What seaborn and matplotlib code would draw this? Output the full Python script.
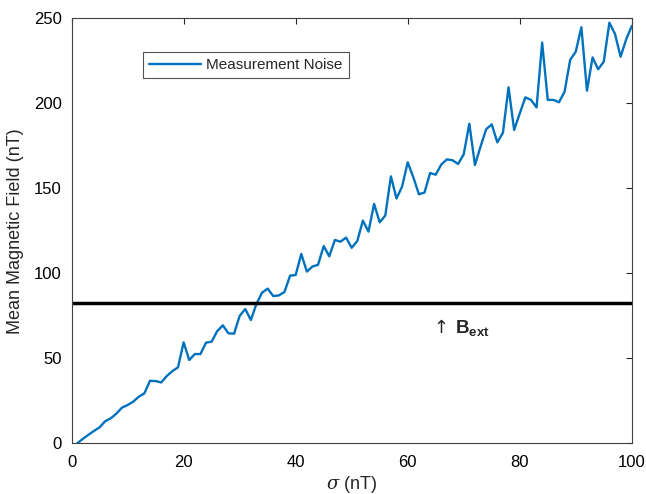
import numpy as np
import pandas as pd
import seaborn as sns
import matplotlib.pyplot as plt

# sigma values (nT) and the mean field
sigma = list(range(1, 101))
mean_field = [
    0.0, 2.6, 5.0, 7.3, 9.4, 13.0, 14.7, 17.5, 21.0, 22.5,
    24.5, 27.4, 29.4, 36.8, 36.6, 35.8, 39.6, 42.5, 44.7, 59.4,
    49.0, 52.5, 52.5, 59.2, 59.8, 66.0, 69.4, 64.7, 64.5, 74.9,
    79.0, 72.5, 82.0, 88.6, 91.0, 86.6, 87.0, 89.0, 98.6, 99.0,
    111.4, 101.0, 104.0, 105.0, 116.0, 110.0, 119.6, 118.6, 121.0, 115.0,
    119.0, 131.0, 124.5, 140.8, 130.0, 134.0, 157.0, 144.0, 151.0, 165.3,
    156.5, 146.5, 147.5, 159.0, 158.0, 164.0, 167.0, 166.5, 164.3, 170.0,
    188.0, 163.7, 174.5, 184.7, 187.6, 177.0, 182.7, 209.4, 184.3, 194.0,
    203.5, 202.0, 197.6, 235.7, 202.0, 202.0, 200.6, 206.8, 225.5, 230.4,
    244.7, 207.4, 227.0, 220.0, 224.5, 247.4, 240.8, 227.4, 237.6, 245.5,
]
b_ext = 82.4

df = pd.DataFrame({'sigma': sigma, 'field': mean_field})

sns.set_style('white')
plt.rcParams['font.family'] = ['Liberation Sans', 'DejaVu Sans']
plt.rcParams['mathtext.fontset'] = 'custom'
plt.rcParams['mathtext.rm'] = 'Liberation Sans'
plt.rcParams['mathtext.bf'] = 'Liberation Sans:bold'
plt.rcParams['mathtext.it'] = 'DejaVu Serif:italic'

fig = plt.figure(figsize=(6.46, 4.94), dpi=100)
ax = fig.add_axes([0.1108, 0.1026, 0.8672, 0.8604])

sns.lineplot(data=df, x='sigma', y='field', ax=ax, color='#0072BD',
             linewidth=1.7, label='Measurement Noise')
ax.axhline(b_ext, color='black', linewidth=2.5)

# annotation under the reference line
ax.text(64.6, 64.7, '\u2191', fontsize=13, va='baseline', ha='left',
        family='DejaVu Sans')
ax.text(68.5, 64.7, r'$\mathbf{B_{ext}}$', fontsize=13.5, va='baseline', ha='left')

ax.set_xlim(0, 100)
ax.set_ylim(0, 250)
ax.set_xticks([0, 20, 40, 60, 80, 100])
ax.set_yticks([0, 50, 100, 150, 200, 250])
ax.tick_params(direction='in', length=4, width=0.8, colors='#262626',
               labelsize=12, top=True, right=True, pad=8.5)
ax.tick_params(axis='x', labelcolor='black')
ax.tick_params(axis='y', labelcolor='black', pad=7)
for s in ax.spines.values():
    s.set_color('#404040')
    s.set_linewidth(0.8)

ax.set_xlabel(r'$\sigma$ (nT)', fontsize=13, labelpad=2.5)
ax.set_ylabel('Mean Magnetic Field (nT)', fontsize=13, labelpad=7)

leg = ax.legend(loc='upper left', bbox_to_anchor=(0.127, 0.921), fontsize=11,
                frameon=True, fancybox=False, edgecolor='#262626',
                handlelength=3.4, handletextpad=0.35, borderpad=0.4,
                borderaxespad=0)
leg.get_frame().set_linewidth(0.8)

fig.savefig('out.png', dpi=100)
